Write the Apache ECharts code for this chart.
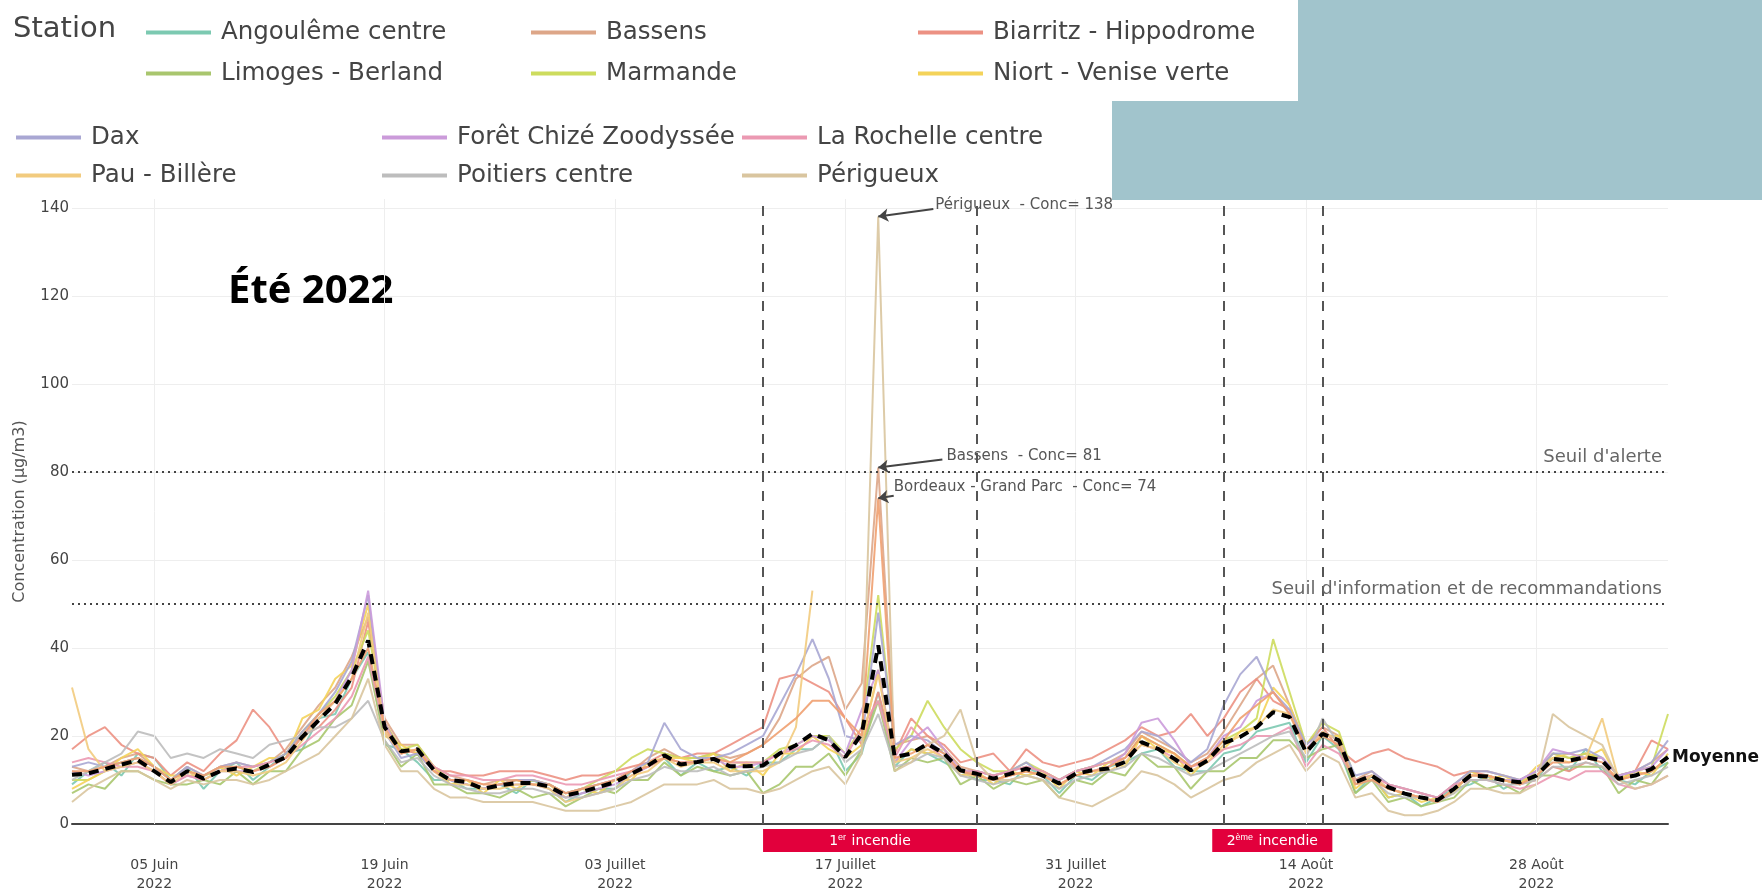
<!DOCTYPE html>
<html>
<head>
    <meta charset="utf-8">
    <title>PM10 - Été 2022</title>
    <script src="https://cdn.jsdelivr.net/npm/echarts@6/dist/echarts.min.js"></script>
    <style>
        html, body { margin: 0; padding: 0; background: #fff; }
        #main { width: 1762px; height: 890px; }
    </style>
</head>
<body>
    <div id="main"></div>
    <script type="text/javascript">
        // jours du 31 mai au 5 septembre 2022
        var startDate = [2022, 4, 31];
        var nbDays = 98;

        // graduations de l'axe des dates
        var tickDates = [[2022, 5, 5], [2022, 5, 19], [2022, 6, 3], [2022, 6, 17], [2022, 6, 31], [2022, 7, 14], [2022, 7, 28]];
        var monthNames = ['Janv', 'Févr', 'Mars', 'Avril', 'Mai', 'Juin', 'Juillet', 'Août', 'Sept', 'Oct', 'Nov', 'Déc'];

        var moyenne = [11.2, 11.5, 12.5, 13.5, 14.5, 12, 9.5, 12, 10.3, 12,
            12.6, 11.8, 13.5, 15.2, 19.8, 23.6, 27.3, 33.4, 41.7, 22,
            16.5, 17, 12.2, 10, 9.5, 8, 8.8, 9.3, 9.3, 8.5,
            6.5, 7.3, 8.4, 9.5, 11.4, 13.3, 15.6, 13.5, 14.1, 14.8,
            13.1, 13.1, 13.3, 16, 17.9, 20.5, 19, 15.2, 20.5, 40.6,
            15.2, 16, 18.2, 16, 12.2, 11.4, 10.3, 11.4, 12.6, 11,
            9.2, 11.4, 12.2, 12.6, 14.1, 18.6, 17.1, 14.8, 12.2, 14.4,
            18.4, 19.8, 22, 25.4, 24.3, 16.3, 20.5, 19, 9.5, 11,
            8.4, 6.9, 6, 5.4, 8, 11, 10.8, 9.9, 9.5, 11,
            14.8, 14.4, 15.2, 14.4, 10.3, 11, 12.5, 15.2];

        var angouleme = [9, 12, 14, 11, 16, 15, 10, 13, 8, 12,
            14, 10, 13, 16, 17, 24, 25, 33, 39, 18,
            17, 14, 10, 10, 8, 8, 9, 7, 10, 8,
            5, 7, 8, 8, 12, 13, 15, 11, 14, 12,
            13, 11, 14, 14, 17, 17, 20, 12, 16, 30,
            13, 17, 16, 14, 12, 10, 10, 9, 13, 11,
            7, 11, 10, 13, 14, 16, 17, 13, 12, 12,
            16, 17, 21, 22, 23, 14, 20, 17, 7, 11,
            6, 7, 4, 6, 8, 9, 11, 8, 10, 10,
            15, 12, 17, 12, 10, 9, 12, 14];
        var bassens = [13, 12, 13, 15, 16, 13, 10, 13, 11, 13,
            14, 13, 14, 17, 22, 27, 31, 38, 47, 24,
            18, 18, 13, 11, 10, 9, 10, 10, 10, 9,
            7, 8, 9, 10, 12, 15, 17, 15, 15, 16,
            15, 16, 18, 24, 33, 36, 38, 26, 32, 81,
            18, 19, 20, 17, 13, 12, 11, 12, 13, 12,
            10, 12, 13, 14, 16, 21, 19, 17, 14, 16,
            21, 27, 33, 36, 27, 18, 22, 20, 10, 12,
            9, 8, 7, 6, 9, 12, 12, 11, 10, 12,
            16, 15, 16, 15, 11, 12, 14, 17];
        var biarritz = [17, 20, 22, 18, 16, 15, 11, 14, 12, 16,
            19, 26, 22, 16, 20, 22, 26, 31, 46, 23,
            17, 16, 12, 12, 11, 11, 12, 12, 12, 11,
            10, 11, 11, 12, 13, 14, 16, 15, 16, 16,
            18, 20, 22, 33, 34, 32, 30, 24, 18, 30,
            16, 24, 20, 18, 14, 15, 16, 12, 17, 14,
            13, 14, 15, 17, 19, 22, 20, 21, 25, 20,
            24, 30, 33, 28, 26, 18, 22, 17, 14, 16,
            17, 15, 14, 13, 11, 12, 11, 10, 9, 10,
            13, 12, 14, 13, 10, 12, 19, 17];
        var limoges = [7, 9, 8, 12, 12, 10, 9, 9, 10, 9,
            12, 9, 12, 12, 17, 19, 24, 27, 37, 19,
            13, 16, 9, 9, 7, 7, 6, 8, 6, 7,
            4, 6, 8, 7, 10, 10, 14, 11, 13, 12,
            11, 12, 7, 9, 13, 13, 16, 11, 17, 28,
            12, 15, 14, 15, 9, 11, 8, 10, 9, 10,
            6, 10, 9, 12, 11, 16, 13, 13, 8, 12,
            12, 15, 15, 19, 19, 15, 17, 18, 7, 10,
            5, 6, 4, 5, 6, 10, 8, 9, 7, 11,
            11, 13, 13, 13, 7, 10, 9, 14];
        var marmande = [10, 10, 12, 14, 15, 13, 10, 12, 11, 12,
            13, 12, 14, 16, 21, 25, 29, 35, 44, 23,
            17, 18, 13, 10, 10, 8, 9, 10, 9, 9,
            7, 8, 10, 12, 15, 17, 16, 15, 15, 16,
            14, 14, 14, 17, 18, 20, 20, 16, 22, 52,
            17, 20, 28, 22, 17, 14, 12, 12, 14, 12,
            10, 12, 13, 14, 15, 20, 18, 16, 13, 15,
            19, 21, 24, 42, 30, 18, 23, 21, 10, 11,
            8, 7, 6, 5, 8, 11, 11, 10, 9, 12,
            16, 15, 16, 15, 11, 12, 13, 25];
        var niort = [8, 10, 12, 15, 17, 13, 11, 11, 11, 13,
            11, 13, 15, 15, 24, 26, 33, 36, 50, 20,
            18, 16, 13, 9, 10, 7, 10, 8, 10, 9,
            6, 8, 7, 10, 10, 14, 15, 15, 14, 16,
            12, 14, 11, 16, 16, 20, 17, 15, 18, 35,
            14, 17, 16, 17, 11, 12, 9, 12, 11, 12,
            8, 12, 11, 14, 13, 20, 17, 16, 11, 15,
            17, 21, 22, 31, 27, 17, 20, 20, 8, 11,
            6, 7, 5, 6, 7, 12, 10, 11, 9, 13,
            15, 16, 15, 17, 10, 12, 11, 16];
        var dax = [13, 14, 13, 14, 15, 13, 10, 13, 11, 13,
            14, 13, 14, 16, 21, 25, 30, 37, 52, 21,
            15, 16, 12, 10, 9, 8, 9, 10, 10, 9,
            7, 8, 9, 10, 12, 14, 23, 17, 15, 15,
            16, 18, 20, 27, 34, 42, 33, 20, 19, 48,
            18, 20, 19, 16, 12, 12, 11, 12, 14, 11,
            10, 12, 13, 15, 17, 21, 20, 17, 14, 17,
            27, 34, 38, 30, 26, 18, 21, 19, 11, 12,
            9, 8, 7, 6, 9, 12, 12, 11, 10, 12,
            16, 16, 17, 15, 11, 12, 14, 19];
        var foretChize = [12, 11, 12, 13, 14, 12, 9, 11, 10, 12,
            12, 12, 13, 15, 20, 24, 28, 35, 53, 23,
            16, 17, 12, 10, 9, 8, 9, 9, 9, 8,
            6, 7, 8, 9, 11, 13, 15, 14, 14, 15,
            13, 13, 14, 16, 18, 20, 19, 16, 26, 35,
            14, 19, 22, 17, 12, 11, 10, 11, 12, 11,
            9, 11, 12, 13, 16, 23, 24, 19, 13, 15,
            20, 22, 28, 30, 25, 17, 21, 19, 9, 11,
            8, 7, 6, 5, 8, 11, 11, 10, 10, 12,
            17, 16, 15, 15, 11, 12, 13, 17];
        var laRochelle = [14, 15, 14, 13, 13, 12, 9, 11, 10, 12,
            13, 13, 14, 15, 18, 21, 24, 29, 38, 21,
            16, 17, 13, 11, 11, 10, 10, 11, 11, 10,
            9, 9, 10, 11, 12, 13, 15, 14, 14, 15,
            14, 14, 14, 16, 17, 19, 18, 15, 22, 28,
            15, 22, 18, 15, 12, 12, 11, 12, 13, 12,
            10, 12, 13, 14, 15, 18, 17, 15, 13, 14,
            17, 18, 20, 20, 22, 13, 18, 16, 10, 11,
            9, 8, 7, 6, 9, 10, 10, 9, 8, 9,
            11, 10, 12, 12, 9, 8, 9, 11];
        var pau = [31, 17, 12, 13, 14, 12, 9, 12, 10, 12,
            12, 11, 12, 14, 19, 24, 28, 33, 48, 21,
            16, 17, 12, 9, 9, 8, 8, 9, 9, 8,
            5, 6, 7, 8, 11, 12, 15, 13, 14, 14,
            12, 12, 12, 14, 22, 53, null, null, 19, 34,
            14, 15, 17, 15, 11, 11, 10, 11, 12, 11,
            9, 11, 12, 12, 14, 18, 17, 14, 12, 14,
            18, 20, 22, 26, 25, 16, 21, 19, 9, 11,
            8, 7, 6, 5, 8, 11, 11, 10, 9, 11,
            15, 14, 15, 24, 10, 11, 12, 15];
        var poitiers = [10, 12, 14, 16, 21, 20, 15, 16, 15, 17,
            16, 15, 18, 19, 20, 22, 22, 24, 28, 19,
            14, 15, 11, 9, 8, 7, 7, 8, 8, 7,
            6, 6, 7, 8, 10, 11, 13, 12, 12, 13,
            11, 12, 13, 14, 16, 17, 20, 14, 17, 25,
            13, 14, 16, 15, 11, 10, 9, 10, 11, 10,
            8, 10, 11, 12, 13, 16, 15, 13, 11, 12,
            14, 16, 18, 20, 21, 15, 24, 18, 9, 10,
            7, 6, 6, 5, 7, 10, 10, 9, 9, 10,
            13, 13, 14, 13, 9, 10, 11, 13];
        var perigueux = [5, 8, 10, 12, 12, 10, 8, 10, 9, 10,
            10, 9, 10, 12, 14, 16, 20, 24, 33, 18,
            12, 12, 8, 6, 6, 5, 5, 5, 5, 4,
            3, 3, 3, 4, 5, 7, 9, 9, 9, 10,
            8, 8, 7, 8, 10, 12, 13, 9, 16, 138,
            12, 14, 18, 20, 26, 14, 10, 10, 11, 10,
            6, 5, 4, 6, 8, 12, 11, 9, 6, 8,
            10, 11, 14, 16, 18, 12, 16, 14, 6, 7,
            3, 2, 2, 3, 5, 8, 8, 7, 7, 9,
            25, 22, 20, 18, 10, 8, 9, 11];
        var bordeaux = [12, 12, 13, 14, 15, 13, 10, 12, 11, 13,
            13, 12, 13, 15, 20, 25, 28, 33, 40, 22,
            16, 17, 12, 10, 10, 9, 9, 10, 9, 9,
            7, 8, 9, 10, 12, 13, 15, 14, 14, 15,
            14, 16, 18, 21, 24, 28, 28, 24, 20, 74,
            15, 16, 18, 16, 12, 11, 10, 11, 12, 11,
            9, 11, 12, 13, 15, 20, 18, 16, 13, 15,
            19, 24, 27, 30, 25, 17, 20, 18, 9, 10,
            8, 7, 6, 5, 8, 11, 11, 10, 9, 11,
            14, 14, 15, 14, 10, 11, 12, 15];

        // seuils réglementaires
        var seuils = [80, 50];
        var seuilLabels = ["Seuil d'alerte", "Seuil d'information et de recommandations"];

        // périodes d'incendie (jours depuis le 31 mai)
        var fireLineDays = [42, 55, 70, 76];
        var fireBoxes = [[42, 55, '1{s|er} incendie'], [69.3, 76.6, '2{s|ème} incendie']];

        // maxima annotés : station, valeur, jour
        var peakNames = ['Périgueux', 'Bassens', 'Bordeaux - Grand Parc'];
        var peakValues = [138, 81, 74];
        var peakDay = 49;

        var FONT = "'DejaVu Sans', Verdana, sans-serif";

        function dayTime(d) {
            var base = new Date(startDate[0], startDate[1], startDate[2]).getTime();
            return base + d * 86400000;
        }
        var dates = [];
        for (var i = 0; i < nbDays; i++) {
            dates.push(new Date(startDate[0], startDate[1], startDate[2] + i).getTime());
        }
        var tickTimes = tickDates.map(function (t) { return new Date(t[0], t[1], t[2]).getTime(); });

        function pairs(arr) {
            return dates.map(function (t, i) { return [t, arr[i]]; });
        }

        var stations = [
            { name: 'Angoulême centre', data: angouleme, color: '#7cc9b1', lx: 146, ly: 30 },
            { name: 'Bassens', data: bassens, color: '#dda688', lx: 531, ly: 30 },
            { name: 'Biarritz - Hippodrome', data: biarritz, color: '#ec9183', lx: 918, ly: 30 },
            { name: 'Limoges - Berland', data: limoges, color: '#a9c66e', lx: 146, ly: 71 },
            { name: 'Marmande', data: marmande, color: '#cddc5e', lx: 531, ly: 71 },
            { name: 'Niort - Venise verte', data: niort, color: '#f4d35a', lx: 918, ly: 71 },
            { name: 'Dax', data: dax, color: '#a9a7d3', lx: 16, ly: 135 },
            { name: 'Forêt Chizé Zoodyssée', data: foretChize, color: '#cb9bda', lx: 382, ly: 135 },
            { name: 'La Rochelle centre', data: laRochelle, color: '#eb99b2', lx: 742, ly: 135 },
            { name: 'Pau - Billère', data: pau, color: '#f2cb7e', lx: 16, ly: 173 },
            { name: 'Poitiers centre', data: poitiers, color: '#bdbdbd', lx: 382, ly: 173 },
            { name: 'Périgueux', data: perigueux, color: '#d9c59f', lx: 742, ly: 173 },
            { name: 'Bordeaux - Grand Parc', data: bordeaux, color: '#f0a070' }
        ];

        var series = [];
        // quadrillage vertical aux dates des graduations
        series.push({
            type: 'line', data: [], z: 0, silent: true,
            markLine: {
                silent: true, symbol: 'none', label: { show: false },
                lineStyle: { color: '#eeeeee', width: 1, type: 'solid' },
                data: tickTimes.map(function (t) { return { xAxis: t }; })
            }
        });
        stations.forEach(function (s) {
            series.push({
                name: s.name, type: 'line', data: pairs(s.data), symbol: 'none', z: 2,
                lineStyle: { color: s.color, width: 2, opacity: 0.9 },
                itemStyle: { color: s.color }
            });
        });

        var markLineData = [];
        seuils.forEach(function (v, i) {
            markLineData.push({
                yAxis: v,
                lineStyle: { color: '#444', width: 2, type: [2, 4] },
                label: {
                    show: true, position: 'insideEndTop', formatter: seuilLabels[i],
                    color: '#666', fontSize: 18, fontFamily: FONT, distance: 6
                }
            });
        });
        fireLineDays.forEach(function (d) {
            markLineData.push({
                xAxis: dayTime(d),
                lineStyle: { color: '#555', width: 2, type: [10, 9] },
                label: { show: false }
            });
        });

        series.push({
            name: 'Moyenne', type: 'line', data: pairs(moyenne), symbol: 'none', z: 5,
            lineStyle: { color: '#000', width: 4, type: [10, 7] },
            itemStyle: { color: '#000' },
            endLabel: {
                show: true, formatter: 'Moyenne', color: '#111', fontWeight: 'bold',
                fontSize: 17, fontFamily: FONT, distance: 4
            },
            markLine: { silent: true, symbol: 'none', data: markLineData }
        });

        // annotations des maxima (texte + flèche)
        var peakText = [[52.47, 140.5], [53.15, 83.5], [49.94, 76.6]];
        var peakArrow = [[52.35, 139.75], [52.9, 82.8], [49.94, 74.6]];
        series.push({
            type: 'line', data: [], z: 6, silent: true,
            markLine: {
                silent: true, symbol: ['none', 'arrow'], symbolSize: 10,
                label: { show: false },
                lineStyle: { color: '#444', width: 2, type: 'solid' },
                data: peakNames.map(function (n, i) {
                    return [{ coord: [dayTime(peakArrow[i][0]), peakArrow[i][1]] },
                        { coord: [dayTime(peakDay), peakValues[i]] }];
                })
            },
            markPoint: {
                silent: true, symbol: 'circle', symbolSize: 0,
                label: {
                    show: true, position: 'right', distance: 0, color: '#555',
                    fontSize: 15, fontFamily: FONT
                },
                data: peakNames.map(function (n, i) {
                    return {
                        coord: [dayTime(peakText[i][0]), peakText[i][1]],
                        label: { formatter: n + '  - Conc= ' + peakValues[i] }
                    };
                })
            }
        });

        var legends = stations.filter(function (s) { return s.lx !== undefined; }).map(function (s) {
            return {
                data: [s.name], left: s.lx, top: s.ly - 10, padding: 0,
                icon: 'rect', itemWidth: 65, itemHeight: 4, selectedMode: false,
                textStyle: { fontFamily: FONT, fontSize: 24.5, color: '#444', padding: [0, 0, 0, 5] }
            };
        });

        var myChart = echarts.init(document.getElementById('main'));
        var option = {
            animation: false,
            backgroundColor: '#fff',
            legend: legends,
            grid: { left: 72, right: 94, top: 199, bottom: 66, outerBoundsMode: 'none' },
            xAxis: {
                type: 'value', min: dates[0], max: dates[nbDays - 1],
                axisLine: { show: true, onZero: true, lineStyle: { color: '#444', width: 2 } },
                axisTick: { show: false },
                splitLine: { show: false },
                axisLabel: {
                    customValues: tickTimes, margin: 32, color: '#444', fontSize: 14,
                    lineHeight: 19, fontFamily: FONT,
                    formatter: function (v) {
                        var d = new Date(v);
                        var day = (d.getDate() < 10 ? '0' : '') + d.getDate();
                        return day + ' ' + monthNames[d.getMonth()] + '\n' + d.getFullYear();
                    }
                }
            },
            yAxis: {
                type: 'value', min: 0, max: 142, interval: 20,
                name: 'Concentration (µg/m3)', nameLocation: 'middle', nameGap: 44,
                nameTextStyle: { color: '#555', fontSize: 16, fontFamily: FONT },
                axisLine: { show: false }, axisTick: { show: false },
                axisLabel: { color: '#444', fontSize: 15, fontFamily: FONT, margin: 3, showMaxLabel: false },
                splitLine: { lineStyle: { color: '#eeeeee' }, showMaxLine: false }
            },
            series: series
        };
        myChart.setOption(option);

        // bandeaux rouges des incendies sous l'axe, placés avec les échelles du graphique
        var y0 = myChart.convertToPixel({ yAxisIndex: 0 }, 0);
        var graphics = [
            { type: 'text', x: 13, y: 29, style: { text: 'Station', fill: '#444', fontSize: 29, fontFamily: FONT, verticalAlign: 'middle' } },
            { type: 'text', x: 228, y: 292, style: { text: 'Été 2022', fill: '#000', fontSize: 40, fontWeight: 'bold', fontFamily: "'Open Sans', sans-serif", verticalAlign: 'middle' } },
            { type: 'rect', z: 100, shape: { x: 1298, y: 0, width: 464, height: 101 }, style: { fill: '#a1c4cc' } },
            { type: 'rect', z: 100, shape: { x: 1112, y: 101, width: 650, height: 99 }, style: { fill: '#a1c4cc' } }
        ];
        fireBoxes.forEach(function (b) {
            var x1 = myChart.convertToPixel({ xAxisIndex: 0 }, dayTime(b[0]));
            var x2 = myChart.convertToPixel({ xAxisIndex: 0 }, dayTime(b[1]));
            graphics.push({ type: 'rect', shape: { x: x1, y: y0 + 5, width: x2 - x1, height: 23 }, style: { fill: '#e2003c' } });
            graphics.push({
                type: 'text', x: (x1 + x2) / 2, y: y0 + 17,
                style: {
                    text: b[2], fill: '#fff', fontSize: 14, fontFamily: FONT,
                    align: 'center', verticalAlign: 'middle',
                    rich: { s: { fontSize: 9, fill: '#fff', verticalAlign: 'top', padding: [0, 1, 7, 0] } }
                }
            });
        });
        myChart.setOption({ graphic: graphics });
    </script>
</body>
</html>
